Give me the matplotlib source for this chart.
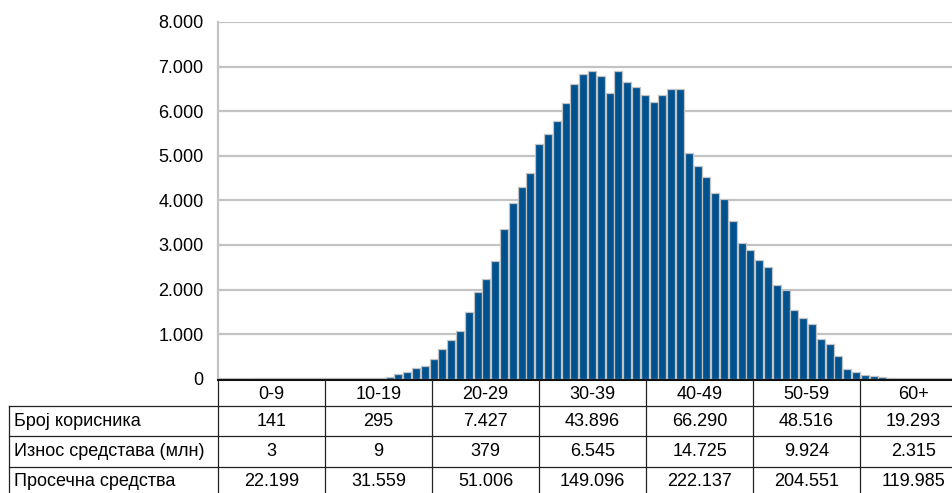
import numpy as np
import matplotlib
matplotlib.use("Agg")
import matplotlib.pyplot as plt
from matplotlib.lines import Line2D

plt.rcParams['font.family'] = ['Liberation Sans', 'DejaVu Sans']

# histogram bars (number of users per bin)
counts = [0, 0, 0, 0, 12, 12, 12, 12, 12, 12,
          12, 15, 15, 15, 18, 18, 20, 22, 25, 30,
          100, 160, 235, 290, 450, 670, 875, 1075, 1485, 1935,
          2230, 2640, 3360, 3950, 4305, 4605, 5255, 5490, 5780, 6175,
          6610, 6830, 6905, 6780, 6415, 6895, 6650, 6545, 6360, 6210,
          6355, 6495, 6495, 5060, 4765, 4520, 4170, 4030, 3530, 3035,
          2880, 2670, 2510, 2095, 1995, 1550, 1355, 1220, 885, 770,
          500, 215, 140, 90, 60, 30, 20]

# table under the chart
age_groups = ["0-9", "10-19", "20-29", "30-39", "40-49", "50-59", "60+"]
row_labels = ["Број корисника", "Износ средстава (млн)", "Просечна средства"]
users = ["141", "295", "7.427", "43.896", "66.290", "48.516", "19.293"]
funds = ["3", "9", "379", "6.545", "14.725", "9.924", "2.315"]
average = ["22.199", "31.559", "51.006", "149.096", "222.137", "204.551", "119.985"]

FS = 13
W, H = 953, 493
fig = plt.figure(figsize=(W / 100, H / 100), dpi=100)

def fx(px):
    return px / W

def fy(py):
    return 1 - py / H

# chart area in pixels
left, right, top, base = 218, 953, 22, 378.7
pitch = 8.8
ax = fig.add_axes([fx(left), fy(base), fx(right - left), fy(top) - fy(base)])

x = np.arange(len(counts))
ax.bar(x, counts, width=0.92, color='#00528f', edgecolor='#c3c3c3', linewidth=0.9, zorder=3)
ax.set_xlim(-0.5, -0.5 + (right - left) / pitch)
ax.set_ylim(0, 8000)
yt = np.arange(0, 8001, 1000)
ax.set_yticks(yt)
ax.set_yticklabels(["0"] + [f"{v // 1000}.000" for v in yt[1:]], fontsize=FS)
ax.tick_params(axis='y', length=0, pad=10.5)
ax.set_xticks([])
ax.grid(axis='y', color='#c3c3c3', linewidth=1.6, zorder=0)
for s in ['top', 'right', 'bottom']:
    ax.spines[s].set_visible(False)
ax.spines['left'].set_color('#c3c3c3')
ax.spines['left'].set_linewidth(1.6)

# table lines
cols = [left + 107 * i for i in range(8)]
rows = [380, 405.7, 436, 466.7]
lc = '#222222'
fig.add_artist(Line2D([fx(left), 1], [fy(379.8)] * 2, color='#111111', lw=1.5))
for yy in rows[1:]:
    fig.add_artist(Line2D([fx(9), 1], [fy(yy)] * 2, color=lc, lw=0.9))
fig.add_artist(Line2D([fx(9)] * 2, [fy(rows[1]), 0], color=lc, lw=0.9))
for cx in cols:
    fig.add_artist(Line2D([fx(cx)] * 2, [fy(380), 0], color=lc, lw=0.9))

# table text
text_y = [394.5, 421, 451, 481.5]
for i, g in enumerate(age_groups):
    cx = fx(cols[i] + 53.5)
    fig.text(cx, fy(text_y[0]), g, ha='center', va='center', fontsize=FS)
    for r, vals in enumerate([users, funds, average]):
        fig.text(cx, fy(text_y[r + 1]), vals[i], ha='center', va='center', fontsize=FS)
for r, lab in enumerate(row_labels):
    fig.text(fx(14), fy(text_y[r + 1]), lab, ha='left', va='center', fontsize=FS)

fig.savefig("out.png", dpi=100)
